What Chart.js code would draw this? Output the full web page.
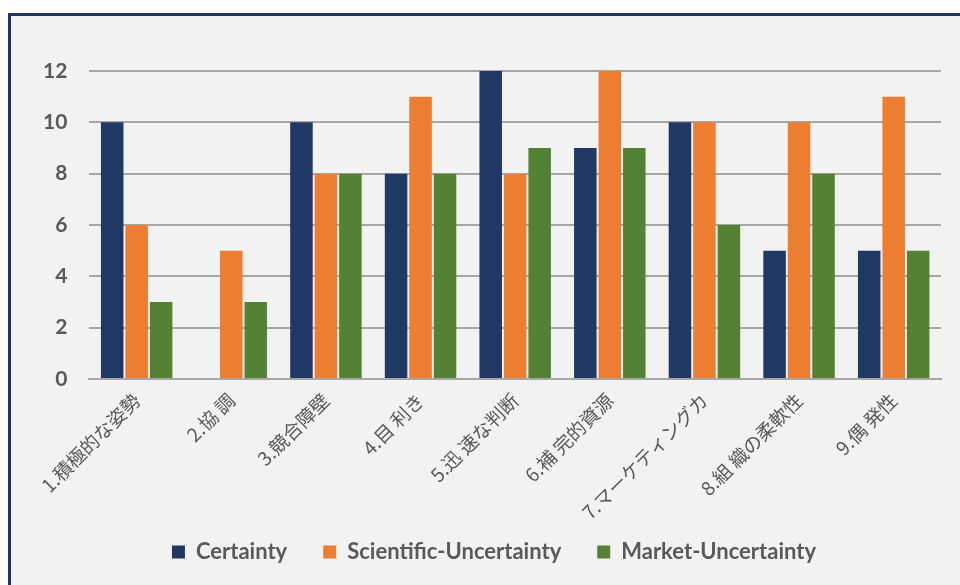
<!DOCTYPE html>
<html>
<head>
<meta charset="utf-8">
<script src="https://cdn.jsdelivr.net/npm/chart.js@4"></script>
<style>
  html, body { margin: 0; padding: 0; background: #ffffff; }
  #frame {
    position: absolute; left: 8px; top: 13px;
    width: 960px; height: 580px;
    border: 3px solid #1f3467;
    background: #f2f2f2;
  }
  #wrap { position: absolute; left: 0; top: 0; width: 949px; height: 569px; }
</style>
</head>
<body>
<div id="frame"><div id="wrap"><canvas id="c"></canvas></div></div>
<script>
const categories = ['1.積極的な姿勢', '2.協 調', '3.競合障壁', '4.目 利き', '5.迅 速な判断',
  '6.補 完的資源', '7.マーケティングカ', '8.組 織の柔軟性', '9.偶 発性'];
const certainty = [10, 0, 10, 8, 12, 9, 10, 5, 5];
const scientificUncertainty = [6, 5, 8, 11, 8, 12, 10, 10, 11];
const marketUncertainty = [3, 3, 8, 8, 9, 9, 6, 8, 5];
const yTicks = [0, 2, 4, 6, 8, 10, 12];

const grey = '#595959';

// Pull the legend row up a little, closer to the rotated category labels,
// and centre it on the whole frame rather than on the canvas.
const legendShift = {
  id: 'legendShift',
  afterLayout(chart) {
    const lg = chart.legend;
    if (lg) {
      lg.top -= 20; lg.bottom -= 20;
      lg.left += 13; lg.right += 13;
    }
  }
};

new Chart(document.getElementById('c'), {
  type: 'bar',
  data: {
    labels: categories,
    datasets: [
      { label: 'Certainty', data: certainty, backgroundColor: '#203864' },
      { label: 'Scientific-Uncertainty', data: scientificUncertainty, backgroundColor: '#ed7d31' },
      { label: 'Market-Uncertainty', data: marketUncertainty, backgroundColor: '#548235' }
    ]
  },
  plugins: [legendShift],
  options: {
    responsive: true,
    maintainAspectRatio: false,
    animation: false,
    categoryPercentage: 0.776,
    barPercentage: 0.92,
    layout: { padding: { top: 55, right: 19, left: 10, bottom: -4 } },
    plugins: {
      tooltip: { enabled: false },
      legend: {
        position: 'bottom',
        maxHeight: 64,
        labels: {
          color: grey,
          font: { family: 'Lato', size: 22, weight: 'bold' },
          boxWidth: 13, boxHeight: 13,
          padding: 36
        }
      }
    },
    scales: {
      x: {
        grid: { display: false },
        border: { color: '#a6a6a6', width: 2 },
        afterFit: (scale) => {
          // rotated labels may overhang the frame edge; keep the plot aligned with the y axis
          scale.paddingLeft = 0;
          scale.paddingRight = 0;
          scale.height = 146;
        },
        ticks: {
          color: grey,
          maxRotation: 45, minRotation: 45,
          font: { family: "'Noto Sans CJK JP'", size: 19 },
          padding: 2
        }
      },
      y: {
        min: 0, max: 12,
        afterBuildTicks: (axis) => { axis.ticks = yTicks.map(v => ({ value: v })); },
        grid: { color: '#a6a6a6', lineWidth: 2, drawTicks: false },
        border: { display: false },
        ticks: {
          color: grey,
          padding: 22,
          font: { family: 'Lato', size: 21, weight: 'bold' }
        }
      }
    }
  }
});
</script>
</body>
</html>
